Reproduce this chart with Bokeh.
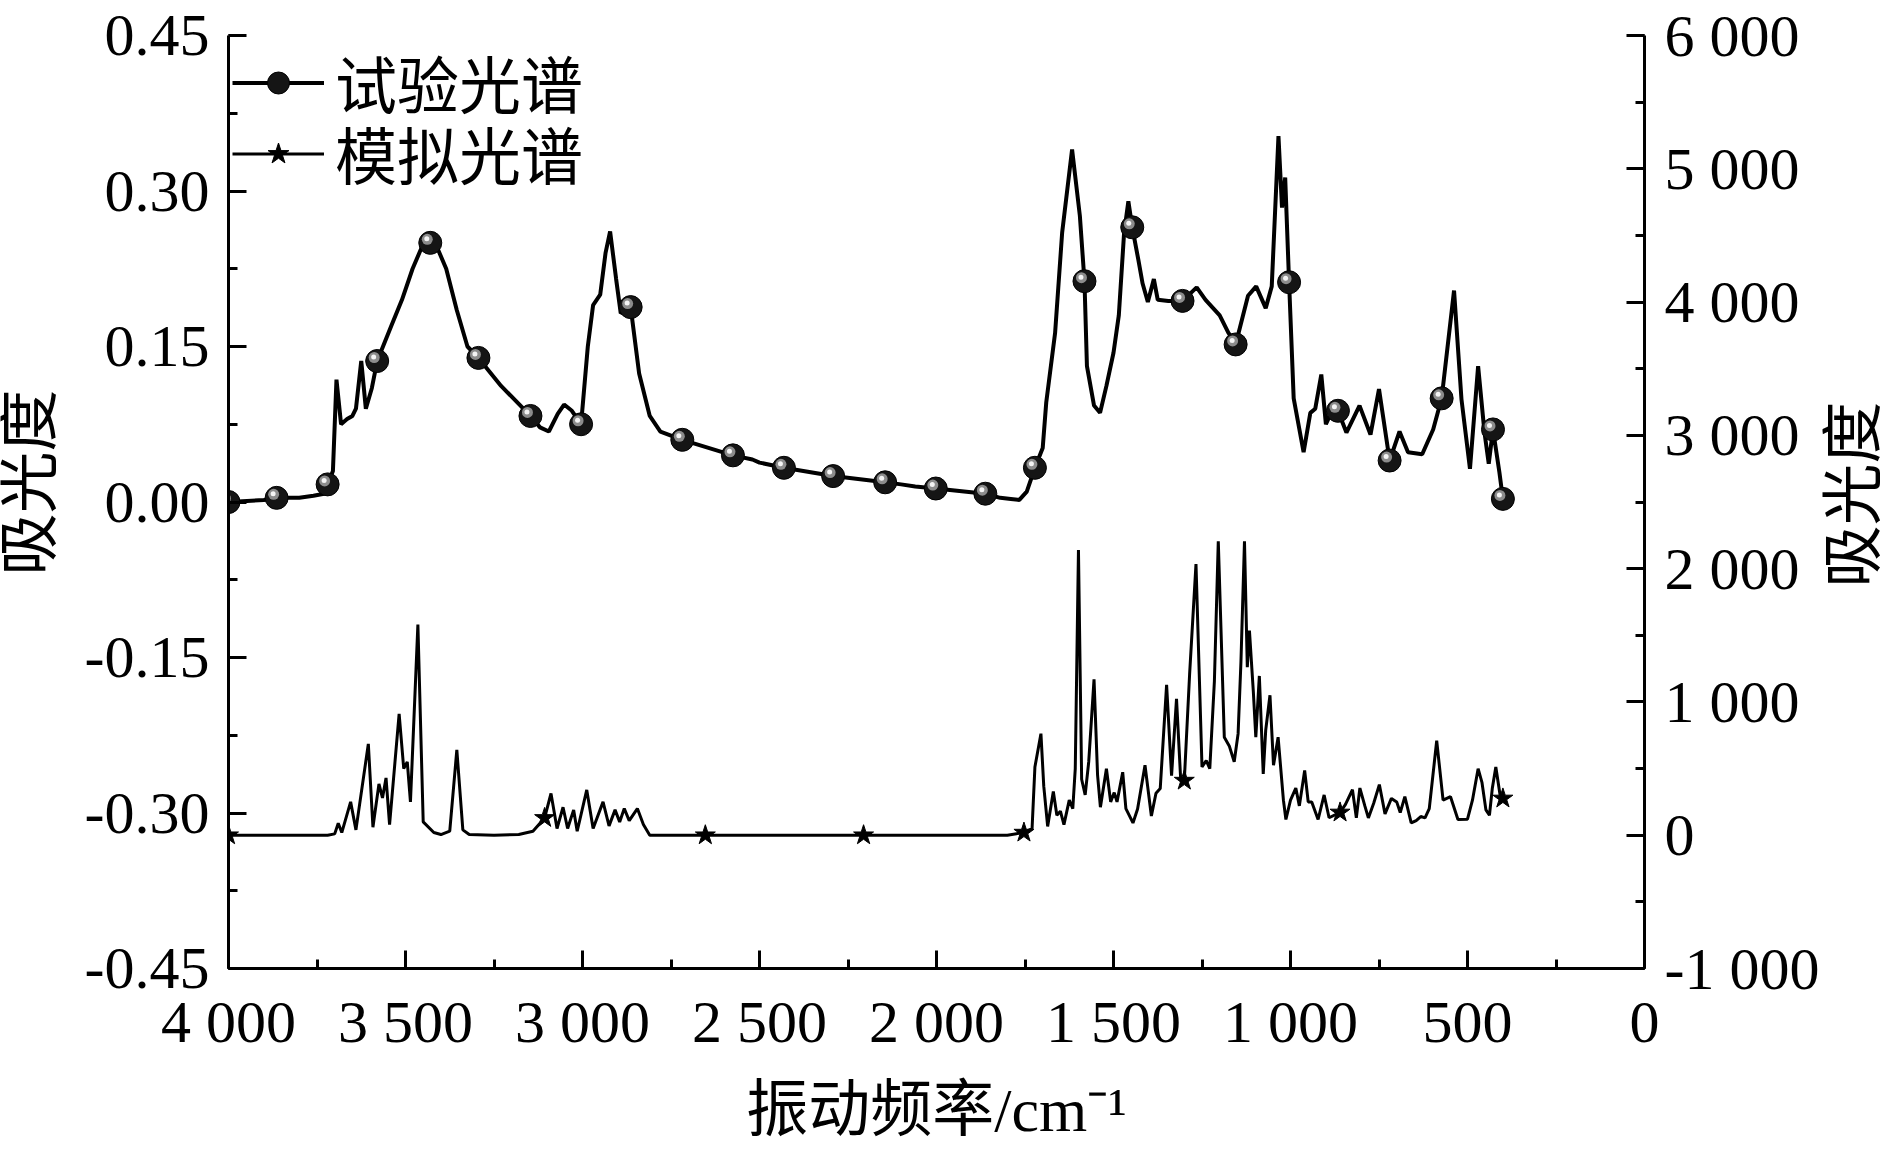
import numpy as np
from bokeh.plotting import figure
from bokeh.layouts import row
from bokeh.models import Range1d, LinearAxis, FixedTicker, Legend, LegendItem, Label
from bokeh.embed import file_html
from bokeh.resources import INLINE

# ---------------- data ----------------
exp_x = [4000, 3900, 3864, 3800, 3760, 3730, 3720, 3705, 3695, 3682, 3665, 3650, 3640,
         3625, 3612, 3595, 3580, 3540, 3510, 3480, 3455, 3430, 3410, 3385, 3355, 3325,
         3294, 3230, 3147, 3120, 3095, 3070, 3052, 3030, 3004, 2985, 2970, 2950, 2935,
         2922, 2905, 2892, 2864, 2840, 2810, 2780, 2718, 2575, 2520, 2500, 2431, 2292,
         2145, 2100, 2060, 2002, 1862, 1820, 1790, 1766, 1745, 1722, 1700, 1690, 1665,
         1645, 1617, 1595, 1582, 1575, 1555, 1538, 1520, 1500, 1485, 1470, 1458, 1447,
         1430, 1418, 1403, 1386, 1375, 1345, 1305, 1265, 1240, 1200, 1175, 1155, 1120,
         1097, 1070, 1053, 1034, 1024, 1015, 1004, 991, 963, 944, 930, 913, 900, 880,
         866, 842, 805, 774, 750, 720, 692, 668, 628, 597, 573, 538, 517, 493, 470, 452,
         440, 428, 410, 400]
exp_y = [0.000, 0.002, 0.004, 0.004, 0.006, 0.008, 0.017, 0.030, 0.118, 0.075, 0.080,
         0.083, 0.090, 0.136, 0.090, 0.110, 0.136, 0.170, 0.195, 0.225, 0.245, 0.250,
         0.245, 0.225, 0.185, 0.150, 0.139, 0.112, 0.083, 0.072, 0.068, 0.085, 0.094,
         0.088, 0.075, 0.150, 0.190, 0.200, 0.240, 0.261, 0.215, 0.182, 0.188, 0.124,
         0.083, 0.068, 0.060, 0.045, 0.041, 0.038, 0.033, 0.025, 0.019, 0.017, 0.015,
         0.013, 0.008, 0.004, 0.003, 0.002, 0.010, 0.033, 0.052, 0.096, 0.163, 0.260,
         0.340, 0.276, 0.213, 0.131, 0.093, 0.086, 0.112, 0.144, 0.180, 0.260, 0.290,
         0.265, 0.234, 0.211, 0.193, 0.215, 0.195, 0.194, 0.194, 0.207, 0.195, 0.180,
         0.163, 0.152, 0.199, 0.208, 0.187, 0.208, 0.353, 0.284, 0.313, 0.212, 0.100,
         0.048, 0.086, 0.090, 0.123, 0.075, 0.090, 0.088, 0.067, 0.093, 0.065, 0.109,
         0.040, 0.068, 0.048, 0.046, 0.070, 0.100, 0.204, 0.099, 0.032, 0.131, 0.067,
         0.037, 0.070, 0.029, 0.003]
exp_marker_x = [4000, 3864, 3720, 3580, 3430, 3294, 3147, 3004, 2864, 2718, 2575, 2431,
                2292, 2145, 2002, 1862, 1722, 1582, 1447, 1305, 1155, 1004, 866, 720,
                573, 428, 400]

sim_x = [4000, 3720, 3700, 3690, 3680, 3655, 3640, 3605, 3592, 3575, 3565, 3555, 3545,
         3518, 3505, 3495, 3486, 3465, 3450, 3420, 3400, 3375, 3355, 3338, 3320, 3250,
         3180, 3140, 3107, 3089, 3072, 3055, 3042, 3025, 3015, 2988, 2970, 2942, 2925,
         2908, 2895, 2882, 2868, 2845, 2828, 2810, 2653, 2206, 1800, 1753, 1730, 1722,
         1705, 1697, 1686, 1670, 1660, 1650, 1640, 1625, 1615, 1608, 1599, 1590, 1580,
         1570, 1555, 1545, 1537, 1520, 1508, 1498, 1490, 1474, 1465, 1445, 1432, 1411,
         1393, 1380, 1368, 1350, 1336, 1322, 1310, 1300, 1285, 1267, 1250, 1238, 1228,
         1215, 1204, 1187, 1173, 1159, 1148, 1140, 1130, 1122, 1116, 1105, 1098, 1088,
         1077, 1070, 1058, 1048, 1035, 1020, 1013, 1000, 985, 975, 960, 950, 940, 922,
         905, 891, 860, 845, 825, 814, 804, 790, 780, 765, 749, 733, 715, 700, 690, 677,
         659, 645, 632, 620, 608, 587, 569, 548, 527, 500, 486, 470, 459, 448, 438, 430,
         420, 408, 400]
sim_y = [0, 0, 10, 90, 20, 250, 40, 685, 60, 385, 280, 430, 80, 910, 500, 550, 250, 1580,
         100, 20, 5, 30, 640, 40, 5, 0, 5, 30, 130, 313, 50, 210, 50, 190, 30, 340, 50,
         250, 70, 190, 100, 200, 110, 200, 80, 0, 0, 0, 0, 20, 50, 512, 762, 368, 66, 328,
         150, 180, 79, 263, 200, 500, 2140, 420, 302, 550, 1169, 450, 210, 499, 250, 320,
         250, 473, 200, 92, 197, 525, 144, 315, 350, 1129, 446, 1024, 407, 410, 1208,
         2035, 512, 560, 499, 1155, 2206, 735, 670, 551, 762, 1300, 2206, 1260, 1536,
         1077, 735, 1195, 460, 788, 1050, 525, 735, 263, 118, 263, 354, 220, 486, 250,
         250, 118, 302, 131, 171, 230, 341, 130, 354, 220, 130, 240, 380, 160, 276, 250,
         170, 289, 92, 110, 140, 130, 200, 709, 263, 289, 118, 120, 263, 499, 394, 190,
         150, 350, 512, 302, 276]
sim_marker_x = [4000, 3107, 2653, 2206, 1753, 1300, 860, 400]

x_ticks = [4000, 3500, 3000, 2500, 2000, 1500, 1000, 500, 0]
x_tick_labels = ["4 000", "3 500", "3 000", "2 500", "2 000", "1 500", "1 000", "500", "0"]
left_ticks = [-0.45, -0.3, -0.15, 0.0, 0.15, 0.3, 0.45]
left_tick_labels = ["-0.45", "-0.30", "-0.15", "0.00", "0.15", "0.30", "0.45"]
right_ticks = [-1000, 0, 1000, 2000, 3000, 4000, 5000, 6000]
right_tick_labels = ["-1 000", "0", "1 000", "2 000", "3 000", "4 000", "5 000", "6 000"]
y_title = "吸光度"
x_title = "振动频率/cm⁻¹"

# ---------------- layout sizes ----------------
FW, FH = 1416, 933          # plot frame
BT, BB = 35, 184            # top / bottom borders
W_LEFT_TITLE = 78           # column holding the left axis title
B_LEFT = 150                # room for the left tick labels
B_RIGHT = 178               # room for the right tick labels
W_RIGHT_TITLE = 1891 - (W_LEFT_TITLE + B_LEFT + FW + B_RIGHT)

x0, x1 = 4000, 0
yl0, yl1 = -0.45, 0.45
yr0, yr1 = -1000, 6000
TITLE_FONT = "Liberation Serif, Noto Sans CJK SC"

p = figure(frame_width=FW, frame_height=FH,
           x_range=Range1d(x0, x1), y_range=Range1d(yl0, yl1),
           output_backend="svg", toolbar_location=None,
           min_border_left=B_LEFT, min_border_right=B_RIGHT,
           min_border_top=BT, min_border_bottom=BB)
p.extra_y_ranges = {"right": Range1d(yr0, yr1)}
p.outline_line_color = None
p.grid.visible = False
p.background_fill_color = "white"
p.border_fill_color = "white"

raxis = LinearAxis(y_range_name="right")
p.add_layout(raxis, "right")

p.xaxis[0].ticker = FixedTicker(ticks=x_ticks,
                                minor_ticks=list(np.arange(0, 4001, 250)))
p.xaxis[0].major_label_overrides = dict(zip(x_ticks, x_tick_labels))
p.yaxis[0].ticker = FixedTicker(ticks=left_ticks,
                                minor_ticks=list(np.round(np.arange(-0.45, 0.451, 0.075), 4)))
p.yaxis[0].major_label_overrides = dict(zip(left_ticks, left_tick_labels))
raxis.ticker = FixedTicker(ticks=right_ticks, minor_ticks=list(range(-1000, 6001, 500)))
raxis.major_label_overrides = dict(zip(right_ticks, right_tick_labels))

for ax in [p.xaxis[0], p.yaxis[0], raxis]:
    ax.axis_line_width = 3
    ax.axis_line_color = "black"
    ax.major_tick_in = 18
    ax.major_tick_out = 0
    ax.minor_tick_in = 9
    ax.minor_tick_out = 0
    ax.major_tick_line_width = 3
    ax.minor_tick_line_width = 3
    ax.major_label_text_font = "Liberation Serif"
    ax.major_label_text_font_size = "60px"
    ax.major_label_text_color = "black"
    ax.major_label_standoff = 20
    ax.axis_label_text_font = TITLE_FONT
    ax.axis_label_text_font_size = "62px"
    ax.axis_label_text_font_style = "normal"
    ax.axis_label_text_color = "black"

p.xaxis[0].axis_label = x_title
p.xaxis[0].axis_label_standoff = 18
p.yaxis[0].major_label_standoff = 19

# ---------------- curves ----------------
l1 = p.line(exp_x, exp_y, line_width=4, line_color="black")
l2 = p.line(sim_x, sim_y, line_width=3, line_color="black", y_range_name="right")

ex = np.array(exp_x, dtype=float)
ey = np.array(exp_y, dtype=float)
sel = np.isin(ex, exp_marker_x)
mx, my = ex[sel], ey[sel]
px_x = (x0 - x1) / FW           # data units per pixel (x axis reversed)
px_y = (yl1 - yl0) / FH
m1 = p.scatter(mx, my, size=23, fill_color="#151515", line_color="black", line_width=1)
p.scatter(mx + 3.0 * px_x, my + 3.5 * px_y, size=11, fill_color="#8c8c8c", line_color=None)
p.scatter(mx + 3.5 * px_x, my + 4.0 * px_y, size=5, fill_color="#f4f4f4", line_color=None)

sx = np.array(sim_x, dtype=float)
sy = np.array(sim_y, dtype=float)
ssel = np.isin(sx, sim_marker_x)
m2 = p.scatter(sx[ssel], sy[ssel], marker="star", size=21, fill_color="black",
               line_color="black", y_range_name="right")

legend_style = dict(orientation="vertical", glyph_width=92, glyph_height=55,
                    label_standoff=11, label_text_font="Noto Sans CJK SC",
                    label_text_font_size="62px", label_text_color="black",
                    label_height=66, padding=0, margin=0, border_line_color=None,
                    background_fill_alpha=0)
p.add_layout(Legend(items=[LegendItem(label="试验光谱", renderers=[l1, m1])],
                    location=(4, 841), **legend_style))
p.add_layout(Legend(items=[LegendItem(label="模拟光谱", renderers=[l2, m2])],
                    location=(4, 770), **legend_style))


# ---------------- side columns holding the rotated y titles ----------------
def title_column(width, xpos, ypos):
    f = figure(frame_width=width, frame_height=FH,
               x_range=Range1d(0, 1), y_range=Range1d(0, 1),
               x_axis_location=None, y_axis_location=None,
               output_backend="svg", toolbar_location=None,
               min_border_left=0, min_border_right=0,
               min_border_top=BT, min_border_bottom=BB)
    f.outline_line_color = None
    f.grid.visible = False
    f.background_fill_color = "white"
    f.border_fill_color = "white"
    f.add_layout(Label(x=xpos, y=ypos, text=y_title, angle=np.pi / 2,
                       text_align="center", text_baseline="middle",
                       text_font=TITLE_FONT, text_font_size="62px",
                       text_color="black"))
    return f


p_left = title_column(W_LEFT_TITLE, 0.38, 0.521)
p_right = title_column(W_RIGHT_TITLE, 0.45, 0.508)

page = row(p_left, p, p_right, spacing=0)
open("out.html", "w").write(file_html(page, INLINE))
